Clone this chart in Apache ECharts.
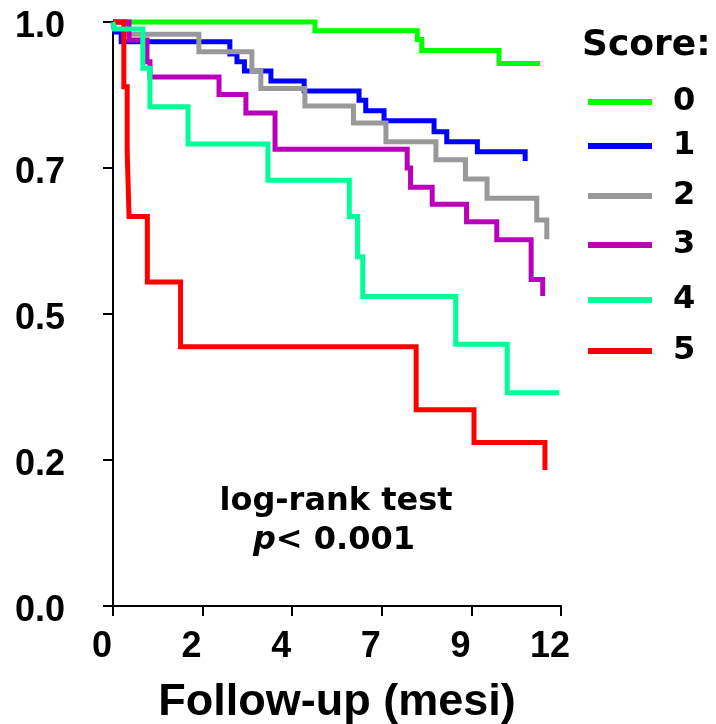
<!DOCTYPE html>
<html>
<head>
<meta charset="utf-8">
<script src="https://cdn.jsdelivr.net/npm/echarts@6/dist/echarts.min.js"></script>
<style>
  html, body { margin: 0; padding: 0; background: #ffffff; }
  #chart { width: 716px; height: 724px; }
</style>
</head>
<body>
<div id="chart"></div>
<script>
// Kaplan-Meier survival by score: [months, survival] after each event
const scoreNames = ['0', '1', '2', '3', '4', '5'];
const score0 = [[0, 1], [5.41, 0.985], [8.15, 0.970], [8.27, 0.951], [10.34, 0.929], [11.44, 0.929]];
const score1 = [[0, 1], [0.05, 0.983], [0.22, 0.966], [3.13, 0.945], [3.32, 0.932], [3.52, 0.916], [4.23, 0.899],
  [5.12, 0.882], [6.59, 0.866], [6.77, 0.848], [7.26, 0.831], [8.60, 0.812], [8.94, 0.795], [9.76, 0.778], [11.04, 0.762]];
const score2 = [[0, 1], [0.35, 0.979], [2.30, 0.949], [3.72, 0.916], [3.96, 0.886], [5.14, 0.856], [6.44, 0.827],
  [7.31, 0.795], [8.65, 0.764], [9.44, 0.731], [10.02, 0.698], [11.35, 0.661], [11.62, 0.628]];
const score3 = [[0, 1], [0.43, 0.969], [0.91, 0.932], [0.99, 0.906], [2.84, 0.876], [3.56, 0.844], [4.34, 0.782],
  [7.88, 0.750], [7.97, 0.717], [8.55, 0.688], [9.47, 0.658], [10.28, 0.627], [11.20, 0.559], [11.51, 0.531]];
const score4 = [[0, 1], [0.03, 0.988], [0.80, 0.921], [0.99, 0.855], [2.01, 0.791], [4.15, 0.729], [6.33, 0.667],
  [6.55, 0.598], [6.69, 0.530], [9.18, 0.448], [10.56, 0.365], [11.95, 0.365]];
const score5 = [[0, 1], [0.29, 0.889], [0.38, 0.778], [0.43, 0.667], [0.92, 0.555], [1.81, 0.444], [8.12, 0.336],
  [9.67, 0.280], [11.57, 0.233]];

// Tick labels as printed on the axes
const xTickLabels = ['0', '2', '4', '7', '9', '12'];
const yTickLabels = ['0.0', '0.2', '0.5', '0.7', '1.0'];

const curves = [score0, score1, score2, score3, score4, score5];
const colors = ['#00ff00', '#0000ff', '#999999', '#bb00bb', '#00ff99', '#ff0000'];
const legendCenters = [104, 148, 198, 247, 302, 353];

const X_STEP = 2.4, Y_STEP = 0.25;
const labelFont = 'Liberation Sans, Arial, sans-serif';
const boldFont = 'DejaVu Sans, Verdana, sans-serif';

const chart = echarts.init(document.getElementById('chart'), null, { renderer: 'canvas' });

chart.setOption({
  backgroundColor: '#ffffff',
  animation: false,
  grid: { left: 113, top: 22, width: 448, height: 584, containLabel: false, outerBoundsMode: 'none' },
  xAxis: {
    type: 'value', min: 0, max: 12, interval: X_STEP,
    name: 'Follow-up (mesi)', nameLocation: 'middle', nameGap: 74,
    nameTextStyle: { fontFamily: labelFont, fontWeight: 'bold', fontSize: 45, color: '#000' },
    axisLine: { lineStyle: { color: '#000', width: 2 } },
    axisTick: { inside: false, length: 10, lineStyle: { color: '#000', width: 2 } },
    axisLabel: {
      margin: 23, padding: [0, 22, 0, 0],
      fontFamily: labelFont, fontWeight: 'bold', fontSize: 36, color: '#000',
      formatter: v => xTickLabels[Math.round(v / X_STEP)]
    },
    splitLine: { show: false }
  },
  yAxis: {
    type: 'value', min: 0, max: 1, interval: Y_STEP,
    axisLine: { show: true, lineStyle: { color: '#000', width: 2 } },
    axisTick: { show: true, inside: false, length: 10, lineStyle: { color: '#000', width: 2 } },
    axisLabel: {
      margin: 48, verticalAlign: 'top', lineHeight: 10,
      fontFamily: labelFont, fontWeight: 'bold', fontSize: 36, color: '#000',
      formatter: v => yTickLabels[Math.round(v / Y_STEP)]
    },
    splitLine: { show: false }
  },
  legend: scoreNames.map((n, i) => ({
    data: [n],
    left: 588,
    top: legendCenters[i] - 18,
    padding: 0,
    icon: 'rect',
    itemWidth: 64,
    itemHeight: 6,
    selectedMode: false,
    textStyle: { fontFamily: boldFont, fontWeight: 'bold', fontSize: 32, color: '#000', padding: [0, 0, 0, 16] }
  })),
  series: curves.map((d, i) => ({
    name: scoreNames[i],
    type: 'line',
    step: 'end',
    data: d,
    symbol: 'none',
    clip: false,
    z: i === 4 ? 4 : (i === 5 ? 3 : 2),
    color: colors[i],
    lineStyle: { color: colors[i], width: 5, cap: 'butt', join: 'miter' }
  })),
  graphic: [
    {
      type: 'text', left: 582, top: 28,
      style: { text: 'Score:', font: 'bold 36px ' + boldFont, fill: '#000' }
    },
    {
      type: 'text', x: 336, y: 502,
      style: { text: 'log-rank test', font: 'bold 32px ' + boldFont, fill: '#000', align: 'center', verticalAlign: 'middle' }
    },
    {
      type: 'text', x: 334, y: 541,
      style: {
        text: '{i|p}{n|< 0.001}',
        align: 'center', verticalAlign: 'middle',
        rich: {
          i: { font: 'italic bold 32px ' + boldFont, fill: '#000' },
          n: { font: 'bold 32px ' + boldFont, fill: '#000' }
        }
      }
    }
  ]
});
</script>
</body>
</html>
